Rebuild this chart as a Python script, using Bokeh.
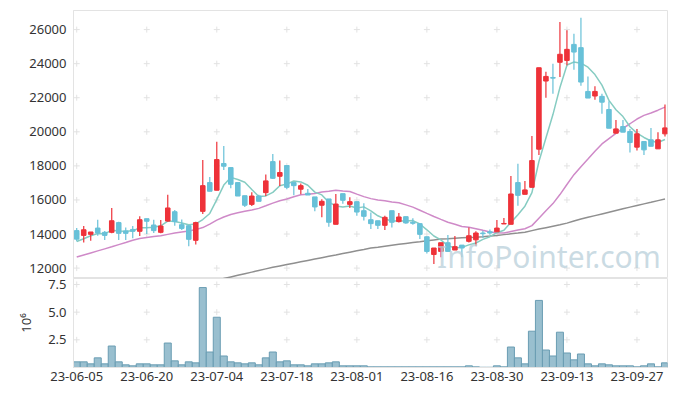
from itertools import product
from bokeh.plotting import figure
from bokeh.layouts import column
from bokeh.models import FixedTicker, Range1d, Label, ColumnDataSource, PrintfTickFormatter
from bokeh.embed import file_html
from bokeh.resources import INLINE

dates = [
    "23-06-05", "23-06-07", "23-06-08", "23-06-09", "23-06-12", "23-06-13", "23-06-14", "23-06-15", "23-06-16", "23-06-19",
    "23-06-20", "23-06-21", "23-06-22", "23-06-23", "23-06-26", "23-06-27", "23-06-28", "23-06-29", "23-06-30", "23-07-03",
    "23-07-04", "23-07-05", "23-07-06", "23-07-07", "23-07-10", "23-07-11", "23-07-12", "23-07-13", "23-07-14", "23-07-17",
    "23-07-18", "23-07-19", "23-07-20", "23-07-21", "23-07-24", "23-07-25", "23-07-26", "23-07-27", "23-07-28", "23-07-31",
    "23-08-01", "23-08-02", "23-08-03", "23-08-04", "23-08-07", "23-08-08", "23-08-09", "23-08-10", "23-08-11", "23-08-14",
    "23-08-16", "23-08-17", "23-08-18", "23-08-21", "23-08-22", "23-08-23", "23-08-24", "23-08-25", "23-08-28", "23-08-29",
    "23-08-30", "23-08-31", "23-09-01", "23-09-04", "23-09-05", "23-09-06", "23-09-07", "23-09-08", "23-09-11", "23-09-12",
    "23-09-13", "23-09-14", "23-09-15", "23-09-18", "23-09-19", "23-09-20", "23-09-21", "23-09-22", "23-09-25", "23-09-26",
    "23-09-27", "23-10-04", "23-10-05", "23-10-06", "23-10-10",
]

opens = [
    14200, 13920, 13980, 14350, 14100, 14100, 14670, 14180, 14270, 14160,
    14900, 14530, 14100, 14760, 15310, 14550, 14490, 13630, 15330, 17020,
    16570, 18140, 17900, 17020, 16250, 15740, 16230, 16430, 18250, 17390,
    18020, 17020, 16630, 16390, 16180, 15690, 16060, 14570, 16370, 15740,
    15900, 15370, 14840, 14780, 14510, 15370, 14730, 15020, 14690, 14610,
    13840, 12800, 12980, 13490, 13060, 13350, 13570, 13660, 14060, 14130,
    14130, 14590, 14570, 17020, 16330, 16740, 18980, 22980, 23190, 24080,
    24190, 25130, 24940, 22370, 22100, 22080, 21310, 19920, 20310, 20020,
    19100, 19430, 19530, 19000, 19880,
]
highs = [
    14350, 14470, 14120, 14840, 14180, 15530, 14720, 14390, 14470, 15040,
    14900, 14840, 14820, 16310, 15410, 14860, 14520, 14720, 18350, 17350,
    19410, 19170, 17900, 17020, 16250, 16450, 16310, 17490, 18700, 18310,
    18020, 17020, 16960, 16650, 16180, 16040, 16060, 16350, 16370, 16160,
    15900, 15800, 15270, 14780, 15080, 15370, 15230, 15020, 14920, 14610,
    13840, 13180, 13490, 13940, 13880, 13350, 14390, 14170, 14190, 14270,
    14820, 14940, 17410, 18120, 17120, 19760, 23760, 23530, 24000, 26450,
    25960, 25760, 26700, 23250, 22680, 22230, 21800, 20700, 20700, 20170,
    20170, 19430, 20230, 19980, 21600,
]
lows = [
    13570, 13510, 13610, 13900, 13650, 14040, 13650, 13650, 13750, 13880,
    14000, 14060, 14040, 14720, 14490, 14230, 13290, 13390, 15180, 16510,
    16570, 17760, 16690, 16230, 15590, 15650, 15920, 16230, 17230, 16820,
    16630, 16270, 16330, 16290, 15330, 14980, 14430, 14570, 15780, 15530,
    15080, 14800, 14290, 14290, 14230, 14390, 14670, 14610, 14550, 13710,
    12860, 12240, 12630, 12980, 13060, 12630, 13510, 13310, 13760, 13960,
    14130, 14590, 14570, 15660, 16330, 16740, 18640, 22000, 22230, 23210,
    23900, 23640, 22700, 21980, 21880, 21060, 20210, 19920, 19980, 18780,
    18900, 18640, 19150, 19000, 19720,
]
closes = [
    13700, 14250, 14120, 14060, 13920, 14780, 14040, 14040, 14160, 14840,
    14750, 14200, 14470, 15530, 14730, 14330, 13690, 14670, 16840, 16510,
    18370, 17980, 16920, 16230, 15690, 16230, 15920, 17120, 17270, 17610,
    16740, 16840, 16840, 16290, 15590, 15920, 14690, 15760, 15980, 15900,
    15290, 15040, 14610, 14510, 14980, 14690, 15000, 14650, 14630, 13980,
    12980, 13180, 13490, 12980, 13260, 13180, 13900, 14060, 14020, 14060,
    14350, 14620, 16350, 16270, 16590, 18310, 23760, 23250, 23150, 24550,
    24840, 24680, 22920, 21980, 22370, 21740, 20210, 20170, 19980, 19370,
    19880, 18940, 19150, 19530, 20230,
]
ma5 = [
    13560, 13720, 13900, 14030, 14010, 14226, 14184, 14168, 14188, 14372,
    14366, 14398, 14484, 14758, 14736, 14652, 14550, 14590, 14852, 15208,
    16016, 16874, 17324, 17202, 17038, 16610, 16198, 16238, 16446, 16830,
    16932, 17116, 17060, 16864, 16460, 16296, 15866, 15650, 15588, 15650,
    15524, 15594, 15364, 15070, 14886, 14766, 14758, 14766, 14790, 14590,
    14248, 13884, 13652, 13322, 13178, 13218, 13362, 13476, 13684, 13844,
    14078, 14222, 14680, 15130, 15636, 16428, 18256, 19636, 21012, 22604,
    23910, 24094, 24028, 23794, 23358, 22738, 21844, 21294, 20894, 20294,
    19922, 19668, 19462, 19374, 19546,
]
ma20 = [
    12650, 12770, 12890, 13010, 13130, 13250, 13380, 13500, 13630, 13740,
    13800, 13850, 13900, 13980, 14060, 14120, 14180, 14260, 14380, 14582,
    14815, 15002, 15142, 15250, 15339, 15411, 15505, 15659, 15815, 15953,
    16053, 16185, 16303, 16341, 16384, 16464, 16514, 16568, 16525, 16495,
    16341, 16194, 16078, 15992, 15957, 15880, 15834, 15710, 15578, 15397,
    15209, 15026, 14858, 14693, 14576, 14439, 14400, 14315, 14217, 14125,
    14078, 14057, 14144, 14232, 14312, 14493, 14931, 15361, 15787, 16316,
    16909, 17484, 17955, 18405, 18861, 19289, 19604, 19910, 20208, 20473,
    20750, 20966, 21106, 21269, 21451,
]
# long moving average, visible from index 19 on
ma_long_start = 19
ma_long = [
    11200, 11290, 11385, 11480, 11575, 11670, 11765, 11860, 11955, 12050,
    12130, 12210, 12290, 12370, 12450, 12530, 12610, 12690, 12770, 12855,
    12935, 13015, 13095, 13176, 13230, 13285, 13340, 13395, 13447, 13500,
    13550, 13605, 13655, 13706, 13730, 13755, 13780, 13800, 13815, 13845,
    13880, 13920, 13965, 14010, 14055, 14110, 14200, 14290, 14375, 14460,
    14545, 14640, 14760, 14880, 14980, 15080, 15180, 15280, 15380, 15480,
    15580, 15680, 15770, 15860, 15960, 16050,
]
volume_m = [
    0.51, 0.51, 0.33, 0.87, 0.33, 1.94, 0.51, 0.24, 0.15, 0.33,
    0.33, 0.24, 0.24, 2.21, 0.60, 0.24, 0.51, 0.42, 7.22, 1.40,
    4.54, 1.04, 0.51, 0.42, 0.33, 0.42, 0.24, 0.87, 1.40, 0.51,
    0.60, 0.24, 0.24, 0.15, 0.33, 0.33, 0.42, 0.51, 0.15, 0.15,
    0.15, 0.15, 0.06, 0.06, 0.06, 0.06, 0.06, 0.06, 0.06, 0.06,
    0.06, 0.06, 0.06, 0.06, 0.06, 0.06, 0.15, 0.06, 0.02, 0.02,
    0.15, 0.06, 1.85, 0.87, 0.33, 3.28, 6.06, 1.58, 1.04, 3.19,
    1.31, 0.69, 1.22, 0.33, 0.15, 0.33, 0.24, 0.15, 0.15, 0.15,
    0.06, 0.15, 0.33, 0.06, 0.42,
]
price_ticks = [12000, 14000, 16000, 18000, 20000, 22000, 24000, 26000]
volume_ticks = [2.5, 5.0, 7.5]
date_tick_idx = [0, 10, 20, 30, 40, 50, 60, 70, 80]
date_tick_labels = ["23-06-05", "23-06-20", "23-07-04", "23-07-18", "23-08-01",
                    "23-08-16", "23-08-30", "23-09-13", "23-09-27"]

UP = "#ee3239"
DOWN = "#68c1d8"
FONT = "Noto Sans"
LABEL_COLOR = "#333333"
FRAME_LINE = "#e3e3e3"
CROSS = "#e2e2e2"

idx = list(range(len(dates)))
colors = [UP if c > o else DOWN for o, c in zip(opens, closes)]
src = ColumnDataSource(dict(
    x=idx, o=opens, h=highs, l=lows, c=closes,
    top=[max(o, c) for o, c in zip(opens, closes)],
    bottom=[min(o, c) for o, c in zip(opens, closes)],
    color=colors, vol=volume_m,
))

x_range = Range1d(-0.46, 84.36)


def style_y(axis):
    axis.axis_line_color = FRAME_LINE
    axis.major_tick_line_color = None
    axis.minor_tick_line_color = None
    axis.major_tick_out = 0
    axis.major_tick_in = 0
    axis.major_label_standoff = 7
    axis.major_label_text_font = FONT
    axis.major_label_text_font_size = "13px"
    axis.major_label_text_color = LABEL_COLOR


p = figure(frame_width=594, frame_height=268, x_range=x_range,
           y_range=Range1d(11390, 27120), output_backend="svg",
           toolbar_location=None, x_axis_location=None,
           min_border_left=73, min_border_right=2, min_border_top=10,
           min_border_bottom=0, background_fill_color="white",
           border_fill_color="white")
p.grid.visible = False
p.outline_line_color = FRAME_LINE
p.yaxis.ticker = FixedTicker(ticks=price_ticks)
style_y(p.yaxis[0])

gx, gy = zip(*product(date_tick_idx, price_ticks))
p.scatter(list(gx), list(gy), marker="cross", size=6, line_color=CROSS, line_width=1)

p.line(list(range(ma_long_start, ma_long_start + len(ma_long))), ma_long,
       line_color="#8f8f8f", line_width=1.5)
p.line(idx, ma20, line_color="#cf8ac8", line_width=1.5)
p.line(idx, ma5, line_color="#86ccc2", line_width=1.5)

p.segment(x0="x", y0="l", x1="x", y1="h", line_color="color", line_width=1.2, source=src)
p.vbar(x="x", width=0.65, top="top", bottom="bottom", fill_color="color",
       line_color="color", line_width=1, source=src)

wm = Label(x=83.4, y=12700, text="InfoPointer.com", text_font=FONT,
           text_font_size="30px", text_color="#b9cfda", text_alpha=0.75,
           text_align="right", text_baseline="middle")
p.add_layout(wm)

v = figure(frame_width=594, frame_height=89, x_range=x_range,
           y_range=Range1d(0, 8.04), output_backend="svg",
           toolbar_location=None, min_border_left=73, min_border_right=2,
           min_border_top=4, min_border_bottom=0,
           background_fill_color="white", border_fill_color=None,
           border_fill_alpha=0, styles={"margin-top": "-4px"})
v.grid.visible = False
v.outline_line_color = FRAME_LINE
v.yaxis.ticker = FixedTicker(ticks=volume_ticks)
v.yaxis.formatter = PrintfTickFormatter(format="%.1f")
style_y(v.yaxis[0])
v.yaxis.axis_label = "10\u2076"
v.yaxis.axis_label_text_font = FONT
v.yaxis.axis_label_text_font_size = "13px"
v.yaxis.axis_label_text_font_style = "normal"
v.yaxis.axis_label_text_color = LABEL_COLOR
v.yaxis.axis_label_standoff = 10

v.xaxis.ticker = FixedTicker(ticks=date_tick_idx)
v.xaxis.major_label_overrides = {i: lab for i, lab in zip(date_tick_idx, date_tick_labels)}
v.xaxis.axis_line_color = FRAME_LINE
v.xaxis.major_tick_line_color = None
v.xaxis.minor_tick_line_color = None
v.xaxis.major_tick_out = 0
v.xaxis.major_tick_in = 0
v.xaxis.major_label_standoff = 4
v.xaxis.major_label_text_font = FONT
v.xaxis.major_label_text_font_size = "13px"
v.xaxis.major_label_text_color = LABEL_COLOR

vx, vy = zip(*product(date_tick_idx, volume_ticks))
v.scatter(list(vx), list(vy), marker="cross", size=6, line_color=CROSS, line_width=1)

v.vbar(x="x", width=1.0, top="vol", bottom=0, fill_color="#93bccc",
       fill_alpha=0.95, line_color="#6a9db3", line_width=1, source=src)

layout = column(p, v, spacing=0)
open("out.html", "w").write(file_html(layout, INLINE))
